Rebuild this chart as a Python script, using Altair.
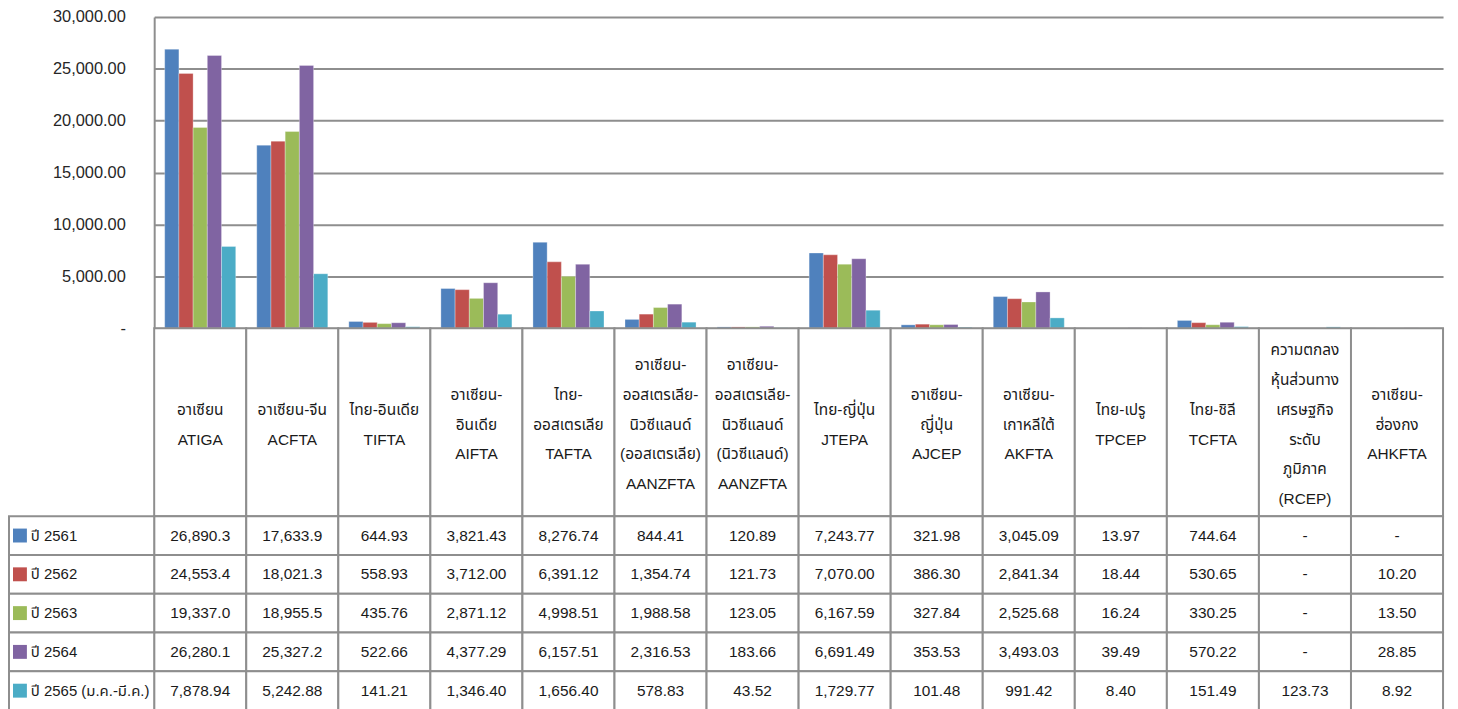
import altair as alt
import pandas as pd

# ---------------- data ----------------
header_labels = [
    "อาเซียน\nATIGA",
    "อาเซียน-จีน\nACFTA",
    "ไทย-อินเดีย\nTIFTA",
    "อาเซียน-\nอินเดีย\nAIFTA",
    "ไทย-\nออสเตรเลีย\nTAFTA",
    "อาเซียน-\nออสเตรเลีย-\nนิวซีแลนด์\n(ออสเตรเลีย)\nAANZFTA",
    "อาเซียน-\nออสเตรเลีย-\nนิวซีแลนด์\n(นิวซีแลนด์)\nAANZFTA",
    "ไทย-ญี่ปุ่น\nJTEPA",
    "อาเซียน-\nญี่ปุ่น\nAJCEP",
    "อาเซียน-\nเกาหลีใต้\nAKFTA",
    "ไทย-เปรู\nTPCEP",
    "ไทย-ชิลี\nTCFTA",
    "ความตกลง\nหุ้นส่วนทาง\nเศรษฐกิจ\nระดับ\nภูมิภาค\n(RCEP)",
    "อาเซียน-\nฮ่องกง\nAHKFTA",
]

years = ["ปี 2561", "ปี 2562", "ปี 2563", "ปี 2564", "ปี 2565 (ม.ค.-มี.ค.)"]
colors = ["#4F81BD", "#C0504D", "#9BBB59", "#8064A2", "#4BACC6"]

v2561 = ["26,890.3", "17,633.9", "644.93", "3,821.43", "8,276.74", "844.41", "120.89",
         "7,243.77", "321.98", "3,045.09", "13.97", "744.64", "-", "-"]
v2562 = ["24,553.4", "18,021.3", "558.93", "3,712.00", "6,391.12", "1,354.74", "121.73",
         "7,070.00", "386.30", "2,841.34", "18.44", "530.65", "-", "10.20"]
v2563 = ["19,337.0", "18,955.5", "435.76", "2,871.12", "4,998.51", "1,988.58", "123.05",
         "6,167.59", "327.84", "2,525.68", "16.24", "330.25", "-", "13.50"]
v2564 = ["26,280.1", "25,327.2", "522.66", "4,377.29", "6,157.51", "2,316.53", "183.66",
         "6,691.49", "353.53", "3,493.03", "39.49", "570.22", "-", "28.85"]
v2565 = ["7,878.94", "5,242.88", "141.21", "1,346.40", "1,656.40", "578.83", "43.52",
         "1,729.77", "101.48", "991.42", "8.40", "151.49", "123.73", "8.92"]

y_ticks = [0, 5000, 10000, 15000, 20000, 25000, 30000]

# ---------------- tables ----------------
keys = [f"c{i:02d}" for i in range(len(header_labels))]
series = [v2561, v2562, v2563, v2564, v2565]

recs = []
for yr, vals in zip(years, series):
    for k, s in zip(keys, vals):
        val = None if s.strip() == "-" else float(s.replace(",", ""))
        recs.append({"cat": k, "year": yr, "label": s, "value": val})
df = pd.DataFrame(recs)
hdr = pd.DataFrame({"cat": keys, "label": header_labels, "part": ["h"] * len(keys),
                    "nlines": [lab.count("\n") + 1 for lab in header_labels]})
yr_df = pd.DataFrame({"year": years})

AXIS_FONT = "Liberation Sans, Noto Sans Thai, sans-serif"
TABLE_FONT = "Liberation Sans, Noto Sans Thai, sans-serif"
LINE = "#8E8E8E"
TXT = "#1a1a1a"

BAR_H = 313
HDR_H = 189
ROW_H = 39
TOTAL_H = BAR_H + HDR_H + ROW_H * len(years)
LINE_H = 30

x_enc = alt.X("cat:N", sort=keys,
              scale=alt.Scale(domain=keys, paddingInner=0, paddingOuter=0),
              axis=None)
color_enc = alt.Color("year:N", sort=years,
                      scale=alt.Scale(domain=years, range=colors), legend=None)

# ---------------- bars ----------------
bars = alt.Chart(df).transform_filter("isValid(datum.value)").mark_bar(
    stroke="#ffffff", strokeWidth=0.6, strokeOpacity=0.5
).encode(
    x=x_enc,
    xOffset=alt.XOffset("year:N", sort=years,
                        scale=alt.Scale(domain=years, paddingInner=0, paddingOuter=0.74)),
    y=alt.Y("value:Q",
            scale=alt.Scale(domain=[0, 30000], range=[BAR_H, 0]),
            axis=alt.Axis(values=y_ticks, title=None, ticks=False,
                          labelExpr="datum.value == 0 ? '-\u00a0\u00a0\u00a0' : format(datum.value, ',.2f')",
                          labelFont=AXIS_FONT, labelFontSize=16.5, labelColor="#262626",
                          labelPadding=29,
                          grid=True, gridColor=LINE, gridWidth=2,
                          domain=True, domainColor=LINE, domainWidth=2)),
    color=color_enc,
)

# ---------------- header row ----------------
hdr_y = alt.Y("part:N", scale=alt.Scale(range=[BAR_H, BAR_H + HDR_H],
                                        paddingInner=0, paddingOuter=0), axis=None)
hdr_rect = alt.Chart(hdr).mark_rect(fill="white", stroke=LINE, strokeWidth=2).encode(
    x=x_enc, y=hdr_y)
hdr_layers = [hdr_rect]
for n in sorted(set(hdr["nlines"])):
    hdr_layers.append(
        alt.Chart(hdr).transform_filter(f"datum.nlines == {n}").mark_text(
            lineBreak="\n", lineHeight=LINE_H, fontSize=15.5, font=TABLE_FONT,
            baseline="middle", color=TXT, dy=-(n - 1) * LINE_H / 2 + 2.5
        ).encode(x=x_enc, y=hdr_y, text="label:N")
    )
header = alt.layer(*hdr_layers)

# ---------------- data rows ----------------
rows_y = alt.Y("year:N", sort=years,
               scale=alt.Scale(domain=years, range=[BAR_H + HDR_H, TOTAL_H],
                               paddingInner=0, paddingOuter=0), axis=None)
cell_rect = alt.Chart(df).mark_rect(fill="white", stroke=LINE, strokeWidth=2).encode(
    x=x_enc, y=rows_y)
cell_text = alt.Chart(df).mark_text(fontSize=15.5, font=TABLE_FONT, baseline="middle",
                                    color=TXT).encode(
    x=x_enc, y=rows_y, text="label:N")
lab_rect = alt.Chart(yr_df).mark_rect(fill="white", stroke=LINE, strokeWidth=2).encode(
    x=alt.value(-146), x2=alt.value(0), y=rows_y)
lab_swatch = alt.Chart(yr_df).mark_square(size=196, opacity=1).encode(
    x=alt.value(-135), y=rows_y, color=color_enc)
lab_text = alt.Chart(yr_df).mark_text(fontSize=15, font=TABLE_FONT, align="left",
                                      baseline="middle", color=TXT).encode(
    x=alt.value(-124), y=rows_y, text="year:N")
rows = alt.layer(cell_rect, cell_text, lab_rect, lab_swatch, lab_text)

chart = alt.layer(bars, header, rows).resolve_scale(y="independent").properties(
    width=1296, height=TOTAL_H,
    autosize=alt.AutoSizeParams(type="none"),
    padding={"left": 147, "top": 7, "right": 7, "bottom": 2},
).configure_view(stroke=None)

chart.save("out.html", embed_options={"renderer": "svg", "actions": False})
